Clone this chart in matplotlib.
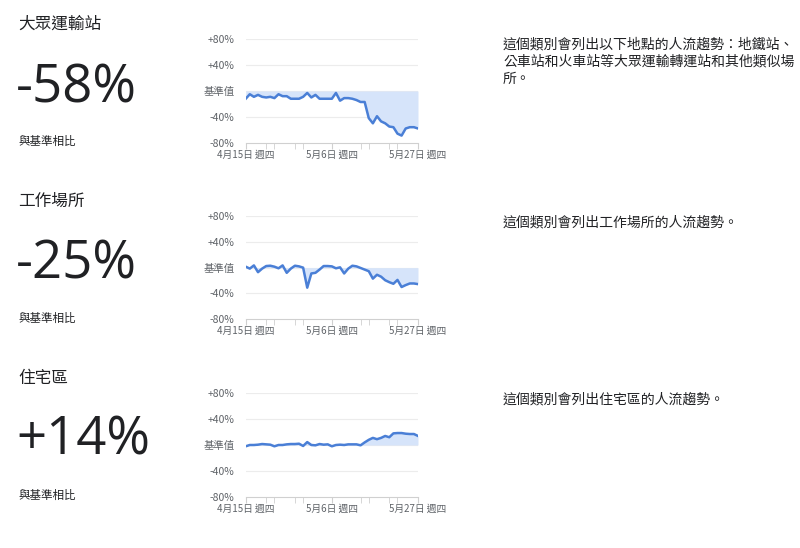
import matplotlib
matplotlib.use('Agg')
import matplotlib.pyplot as plt
import matplotlib.dates as mdates
import numpy as np

plt.rcParams['font.family'] = ['Noto Sans CJK TC', 'DejaVu Sans']

# daily values, Apr 15 .. May 27
dates = np.arange(np.datetime64('2020-04-15'), np.datetime64('2020-05-28'))

transit = [-12, -5, -9, -6, -9, -10, -9, -11, -5, -8, -8, -12, -12, -12, -9,
           -3, -10, -6, -12, -12, -12, -12, -3, -15, -11, -11, -12, -14, -17,
           -17, -42, -50, -39, -47, -50, -55, -56, -66, -69, -58, -56, -56, -58]
workplace = [1.5, -1.5, 3.5, -7, -1.5, 2.5, 3, 1.5, -1, 3.5, -8, -1.5, 3, 2, 0,
             -31, -9, -8, -3, 2.5, 2.5, 2, -1, 0.5, -9, -1.5, 3, 2, -0.5, -3,
             -5.5, -17, -11, -14, -19.5, -22.5, -25, -19, -30, -27, -24.5,
             -24.5, -25.5]
residential = [-2, 0, 0, 0.5, 1.5, 1, 0.5, -2, 0, 0, 1, 1.5, 1.5, 2, -1.5, 4.5,
               0, -0.5, 1.5, 0.5, 1, -2, 0, 0.5, 0, 1, 1, 1, -0.5, 4, 8, 11, 9,
               11, 14, 12, 18, 18.5, 18.5, 17.5, 17, 17, 14]

titles = ['大眾運輸站', '工作場所', '住宅區']
headline = ['-58%', '-25%', '+14%']
notes = ['這個類別會列出以下地點的人流趨勢：地鐵站、\n公車站和火車站等大眾運輸轉運站和其他類似場\n所。',
         '這個類別會列出工作場所的人流趨勢。',
         '這個類別會列出住宅區的人流趨勢。']
series = [transit, workplace, residential]

ytick_vals = [80, 40, 0, -40, -80]
ytick_text = ['+80%', '+40%', '基準值', '-40%', '-80%']
xtick_dates = [np.datetime64('2020-04-15'), np.datetime64('2020-05-06'), np.datetime64('2020-05-27')]
xtick_text = ['4月15日 週四', '5月6日 週四', '5月27日 週四']

line_col = '#4a7fd6'
fill_col = '#d6e4fa'
grey = '#5f6368'

W, H = 800, 548
fig = plt.figure(figsize=(8, 5.48), dpi=100)

ax_bottoms = [142.7, 319.3, 496.7]
ax_tops = [39.3, 216, 393.3]
title_y = [24, 201, 378]
big_y = [89, 265, 441]
sub_y = [141, 318, 495]
note_y = [37, 215, 392]

for i in range(3):
    b = 1 - ax_bottoms[i] / H
    h = (ax_bottoms[i] - ax_tops[i]) / H
    ax = fig.add_axes([245.7 / W, b, (418 - 245.7) / W, h])
    d = dates.astype('datetime64[D]').astype(object)
    ax.fill_between(d, series[i], 0, color=fill_col, lw=0)
    ax.plot(d, series[i], color=line_col, lw=1.8)
    ax.set_ylim(-80, 80)
    ax.set_xlim(d[0], d[-1])
    ax.set_yticks(ytick_vals)
    ax.set_yticklabels(ytick_text, fontsize=7.5, color=grey)
    for v in [80, 40, 0, -40]:
        ax.axhline(v, color='#ececec', lw=0.8, zorder=0)
    ax.set_xticks([x.astype(object) for x in xtick_dates])
    ax.set_xticklabels(xtick_text, fontsize=7, color=grey)
    ax.xaxis.set_minor_locator(mdates.DayLocator(bymonthday=[15, 22, 29, 6, 13, 20, 27]))
    ax.tick_params(axis='y', length=0, pad=8)
    ax.tick_params(axis='x', which='both', length=4, color='#d0d0d0', pad=1)
    for s in ['top', 'right', 'left']:
        ax.spines[s].set_visible(False)
    ax.spines['bottom'].set_color('#d0d0d0')
    ax.spines['bottom'].set_linewidth(0.8)

    fig.text(18 / W, 1 - title_y[i] / H, titles[i], fontsize=12, color='#202124', va='center')
    fig.text(16 / W, 1 - big_y[i] / H, headline[i], fontsize=38, color='#202124',
             va='center', family=['Open Sans', 'DejaVu Sans'])
    fig.text(18 / W, 1 - sub_y[i] / H, '與基準相比', fontsize=8.3, color='#202124', va='center')
    fig.text(503 / W, 1 - note_y[i] / H, notes[i], fontsize=10, color='#202124',
             va='top', linespacing=1.3)

fig.savefig('out.png', dpi=100)
